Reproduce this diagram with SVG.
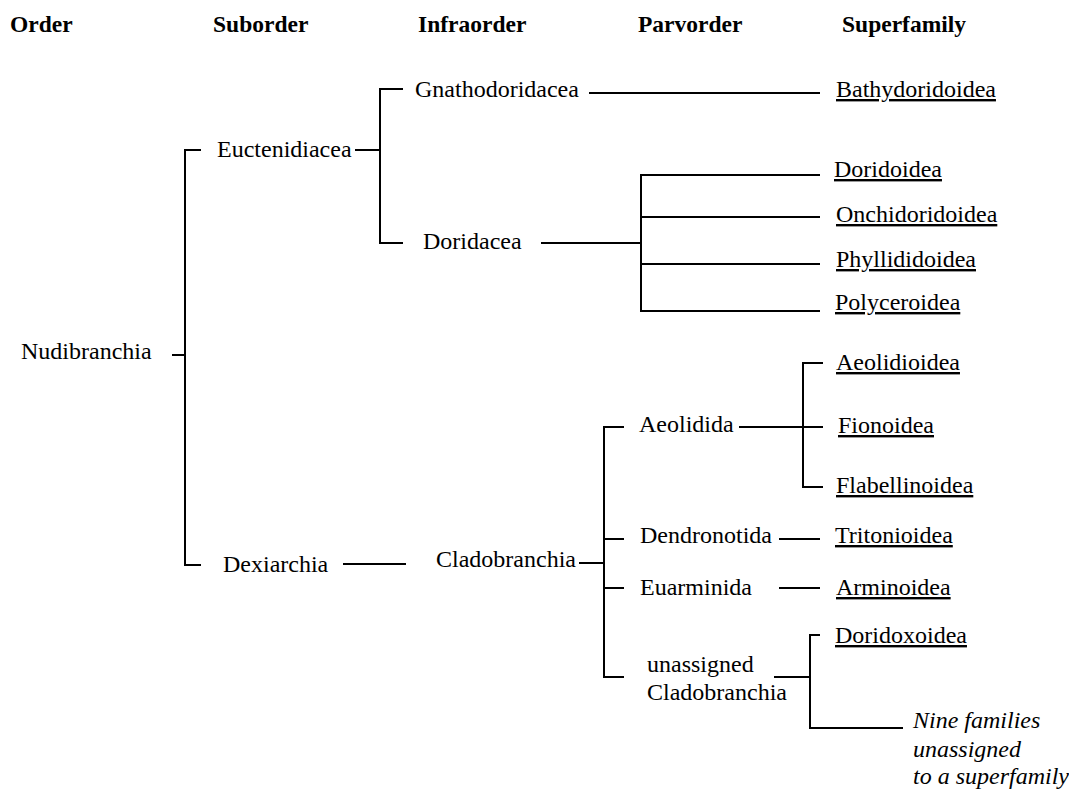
<svg xmlns="http://www.w3.org/2000/svg" width="1069" height="789" viewBox="0 0 1069 789">
<style>
text{font-family:"Liberation Serif","Times New Roman",serif;fill:#000}
.h{font-weight:bold;font-size:23.5px}
.t{font-size:24px}
.u{font-size:24px;text-decoration:underline}
.i{font-size:24px;font-style:italic}
#connectors line{stroke:#000;stroke-width:2;fill:none}
</style>
<rect width="1069" height="789" fill="#fff"/>
<g id="headers">
<text class="h" x="10" y="32">Order</text>
<text class="h" x="213" y="32">Suborder</text>
<text class="h" x="418" y="32">Infraorder</text>
<text class="h" x="638" y="32">Parvorder</text>
<text class="h" x="842" y="32">Superfamily</text>
</g>
<g id="connectors">
<line x1="172" y1="355" x2="185" y2="355"/>
<line x1="185" y1="150" x2="185" y2="565"/>
<line x1="184" y1="150" x2="201" y2="150"/>
<line x1="184" y1="565" x2="201" y2="565"/>
<line x1="355" y1="150" x2="380" y2="150"/>
<line x1="380" y1="89" x2="380" y2="243"/>
<line x1="379" y1="89" x2="403" y2="89"/>
<line x1="379" y1="243" x2="403" y2="243"/>
<line x1="589" y1="93" x2="820" y2="93"/>
<line x1="541" y1="243" x2="641" y2="243"/>
<line x1="641" y1="175" x2="641" y2="311"/>
<line x1="640" y1="175" x2="820" y2="175"/>
<line x1="641" y1="217" x2="820" y2="217"/>
<line x1="641" y1="264" x2="820" y2="264"/>
<line x1="640" y1="311" x2="820" y2="311"/>
<line x1="343" y1="564" x2="406" y2="564"/>
<line x1="579" y1="563" x2="604" y2="563"/>
<line x1="604" y1="427" x2="604" y2="677"/>
<line x1="603" y1="427" x2="624" y2="427"/>
<line x1="604" y1="539" x2="624" y2="539"/>
<line x1="604" y1="588" x2="624" y2="588"/>
<line x1="603" y1="677" x2="624" y2="677"/>
<line x1="739" y1="427" x2="823" y2="427"/>
<line x1="803" y1="363" x2="803" y2="487"/>
<line x1="802" y1="363" x2="823" y2="363"/>
<line x1="802" y1="487" x2="823" y2="487"/>
<line x1="779" y1="539" x2="820" y2="539"/>
<line x1="779" y1="588" x2="820" y2="588"/>
<line x1="774" y1="677" x2="810" y2="677"/>
<line x1="810" y1="635" x2="810" y2="728"/>
<line x1="809" y1="635" x2="820" y2="635"/>
<line x1="809" y1="728" x2="903" y2="728"/>
</g>
<g id="n-nudibranchia"><text class="t" x="21" y="359">Nudibranchia</text></g>
<g id="n-euctenidiacea"><text class="t" x="217" y="157">Euctenidiacea</text></g>
<g id="n-dexiarchia"><text class="t" x="223" y="572">Dexiarchia</text></g>
<g id="n-gnathodoridacea"><text class="t" x="415" y="97">Gnathodoridacea</text></g>
<g id="n-doridacea"><text class="t" x="423" y="249">Doridacea</text></g>
<g id="n-cladobranchia"><text class="t" x="436" y="567">Cladobranchia</text></g>
<g id="n-aeolidida"><text class="t" x="639" y="432">Aeolidida</text></g>
<g id="n-dendronotida"><text class="t" x="640" y="543">Dendronotida</text></g>
<g id="n-euarminida"><text class="t" x="640" y="595">Euarminida</text></g>
<g id="n-unassigned-cladobranchia"><text class="t" x="647" y="672">unassigned</text><text class="t" x="647" y="700">Cladobranchia</text></g>
<g id="n-bathydoridoidea"><text class="u" x="836" y="97">Bathydoridoidea</text></g>
<g id="n-doridoidea"><text class="u" x="834" y="177">Doridoidea</text></g>
<g id="n-onchidoridoidea"><text class="u" x="836" y="222">Onchidoridoidea</text></g>
<g id="n-phyllididoidea"><text class="u" x="836" y="267">Phyllididoidea</text></g>
<g id="n-polyceroidea"><text class="u" x="835" y="310">Polyceroidea</text></g>
<g id="n-aeolidioidea"><text class="u" x="836" y="370">Aeolidioidea</text></g>
<g id="n-fionoidea"><text class="u" x="838" y="433">Fionoidea</text></g>
<g id="n-flabellinoidea"><text class="u" x="836" y="493">Flabellinoidea</text></g>
<g id="n-tritonioidea"><text class="u" x="835" y="543">Tritonioidea</text></g>
<g id="n-arminoidea"><text class="u" x="836" y="595">Arminoidea</text></g>
<g id="n-doridoxoidea"><text class="u" x="835" y="643">Doridoxoidea</text></g>
<g id="n-nine-families"><text class="i" x="913" y="728">Nine families</text><text class="i" x="913" y="757">unassigned</text><text class="i" x="913" y="784">to a superfamily</text></g>
</svg>
